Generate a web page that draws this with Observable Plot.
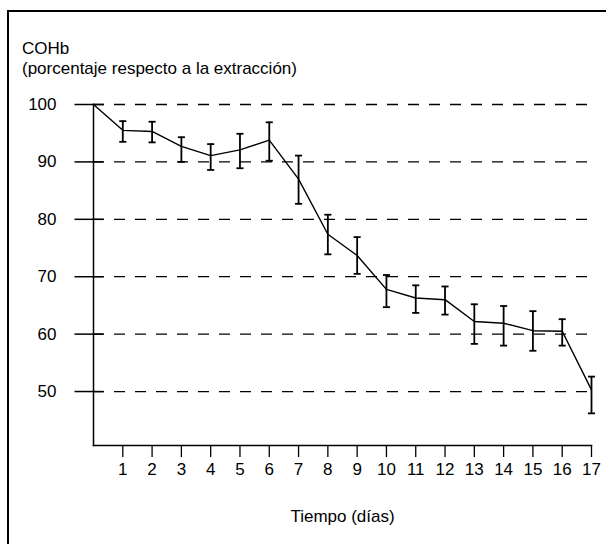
<!DOCTYPE html>
<html><head><meta charset="utf-8">
<script src="https://cdn.jsdelivr.net/npm/d3@7"></script>
<script src="https://cdn.jsdelivr.net/npm/@observablehq/plot@0.6"></script>
<style>
html,body{margin:0;padding:0;background:#fff;overflow:hidden;width:606px;height:544px}
#wrap{position:relative;width:606px;height:544px;font-family:"Liberation Sans",Arial,Helvetica,sans-serif;overflow:hidden}
#frame{position:absolute;left:7px;top:10px;width:800px;height:800px;border:2px solid #000;box-sizing:border-box}
#title{position:absolute;left:22px;top:39px;font-size:17px;line-height:20px;color:#000}
#chart{position:absolute;left:0;top:0}
</style></head><body>
<div id="wrap"><div id="frame"></div><div id="title">COHb<br>(porcentaje respecto a la extracción)</div><div id="chart"></div></div>
<script>
const days = [0, 1, 2, 3, 4, 5, 6, 7, 8, 9, 10, 11, 12, 13, 14, 15, 16, 17];
const meanCOHb = [100, 95.5, 95.3, 92.7, 91.1, 92.1, 93.8, 87.0, 77.4, 73.7, 67.8, 66.3, 66.0, 62.2, 61.9, 60.6, 60.5, 50.3];
const lowCOHb = [null, 93.5, 93.4, 90.0, 88.6, 88.9, 90.2, 82.7, 73.9, 70.5, 64.7, 63.7, 63.4, 58.3, 58.0, 57.1, 58.0, 46.2];
const highCOHb = [null, 97.1, 97.0, 94.3, 93.1, 94.9, 96.9, 91.1, 80.8, 76.9, 70.3, 68.5, 68.3, 65.2, 64.9, 64.0, 62.6, 52.6];
const yTicks = [50, 60, 70, 80, 90, 100];
const xTicks = [1, 2, 3, 4, 5, 6, 7, 8, 9, 10, 11, 12, 13, 14, 15, 16, 17];
const xLabel = "Tiempo (días)";

const data = days.map((d, i) => ({day: d, mean: meanCOHb[i], low: lowCOHb[i], high: highCOHb[i]}));
const bars = data.filter(d => d.low != null);
const cap = {draw(ctx, size) { const r = Math.sqrt(size); ctx.moveTo(-r, 0); ctx.lineTo(r, 0); }};
// y tick crossing the axis: 19px outward, 10px inward
const yTickSym = {draw(ctx, size) { const r = Math.sqrt(size); ctx.moveTo(-r, 0); ctx.lineTo(r * 10 / 19, 0); }};

const chart = Plot.plot({
  width: 606, height: 544,
  marginLeft: 93, marginRight: 15, marginTop: 104, marginBottom: 99,
  style: {fontFamily: '"Liberation Sans", Arial, Helvetica, sans-serif', fontSize: "17px", color: "#000", background: "transparent", overflow: "visible"},
  x: {domain: [0, 17], axis: null},
  y: {domain: [40.6, 100], axis: null},
  marks: [
    Plot.gridY(yTicks, {stroke: "#000", strokeOpacity: 1, strokeDasharray: "11,10", strokeWidth: 1.3}),
    Plot.frame({anchor: "left", strokeWidth: 1.5}),
    Plot.frame({anchor: "bottom", strokeWidth: 1.5}),
    Plot.dot(yTicks, {x: () => 0, y: d => d, symbol: yTickSym, r: 19 / Math.sqrt(Math.PI), stroke: "#000", strokeWidth: 1.5}),
    Plot.text(yTicks, {x: () => 0, y: d => d, text: d => String(d), textAnchor: "end", dx: -37, fill: "#000"}),
    Plot.axisX(xTicks, {tickSize: 12, tickPadding: 5, label: xLabel, labelAnchor: "center", labelOffset: 76, labelArrow: "none", strokeWidth: 1.3}),
    Plot.ruleX(bars, {x: "day", y1: "low", y2: "high", strokeWidth: 1.8}),
    Plot.dot(bars, {x: "day", y: "low", symbol: cap, r: 2, stroke: "#000", strokeWidth: 1.8}),
    Plot.dot(bars, {x: "day", y: "high", symbol: cap, r: 2, stroke: "#000", strokeWidth: 1.8}),
    Plot.line(data, {x: "day", y: "mean", stroke: "#000", strokeWidth: 1.4})
  ]
});
document.getElementById("chart").appendChild(chart);
</script>
</body></html>
